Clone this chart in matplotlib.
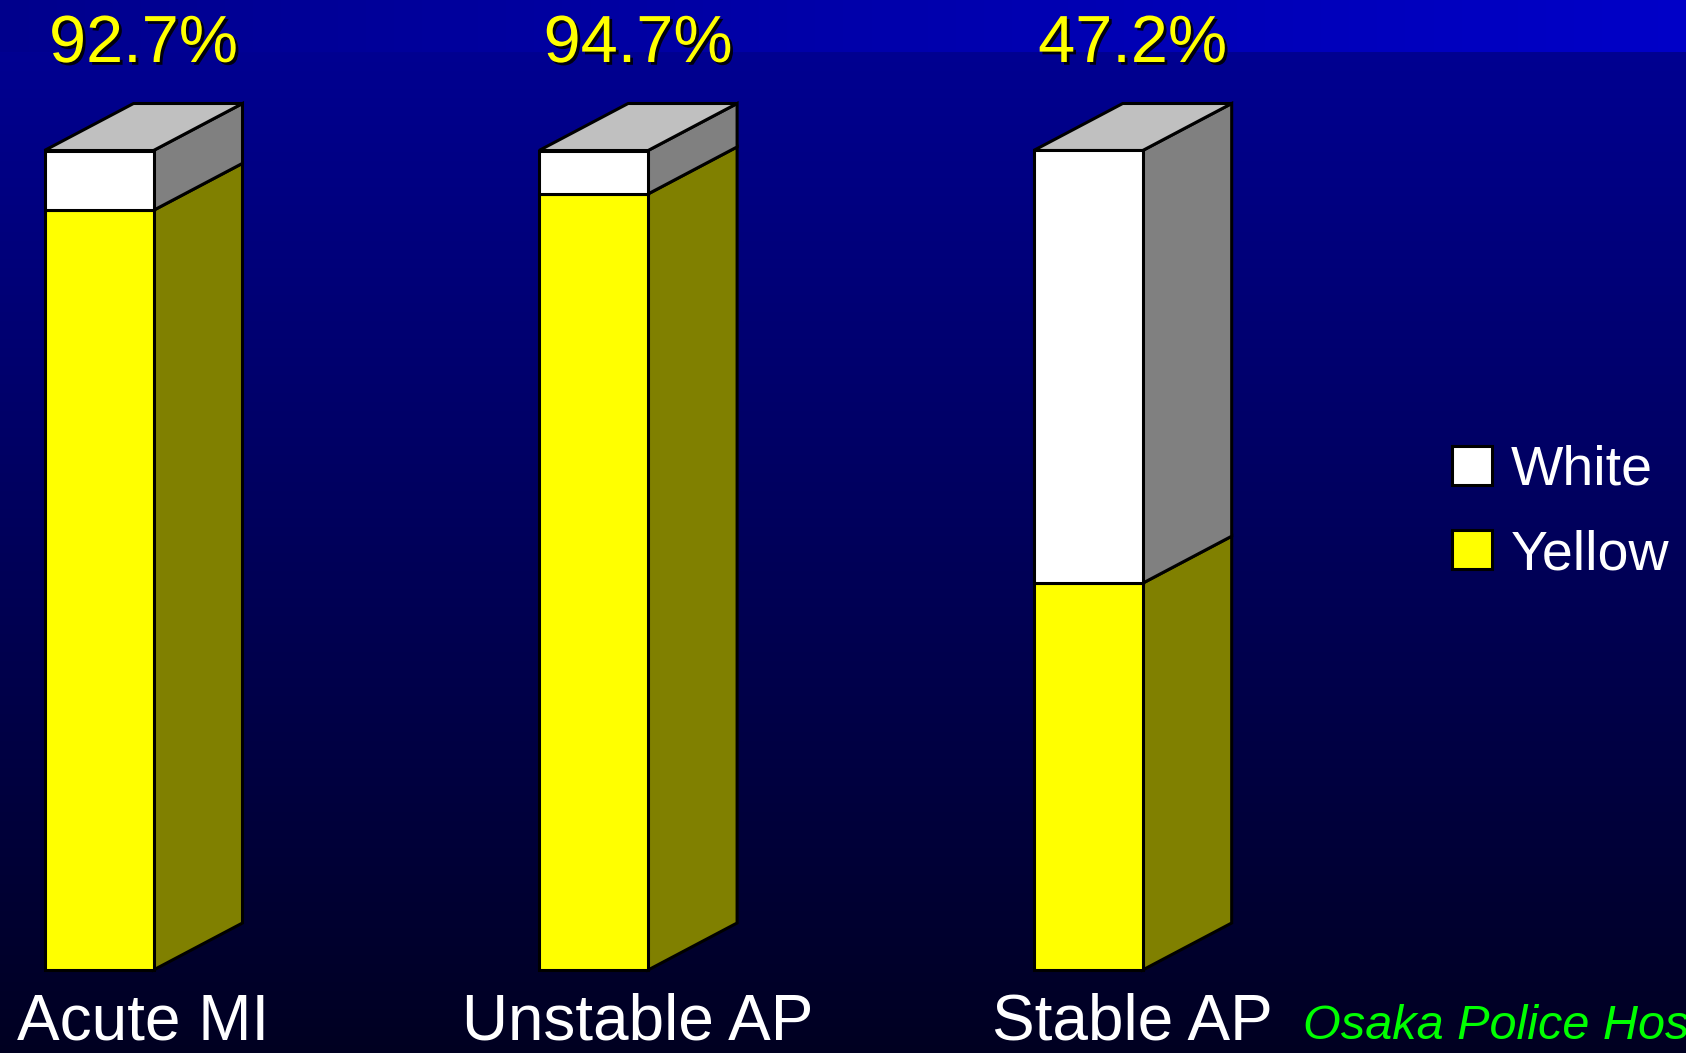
import numpy as np
import matplotlib.pyplot as plt
import matplotlib.patheffects as pe
from matplotlib.patches import Polygon, Patch
from matplotlib import font_manager

categories = ['Acute MI', 'Unstable AP', 'Stable AP']
yellow_pct = [92.7, 94.7, 47.2]
white_pct = [100 - v for v in yellow_pct]
series_names = ['White', 'Yellow']
credit = 'Osaka Police Hospital'

# narrow face for the big labels, if it is there
names = {f.name for f in font_manager.fontManager.ttflist}
narrow = 'Liberation Sans Narrow' if 'Liberation Sans Narrow' in names else 'Liberation Sans'
plt.rcParams['font.family'] = ['Liberation Sans', 'DejaVu Sans']

W, H = 1686, 1053
fig = plt.figure(figsize=(W / 100, H / 100), dpi=100)
ax = fig.add_axes([0, 0, 1, 1])

# axis limits chosen so bars sit where they should on the canvas
px_per_x = 494.6
px_per_y = 8.195
x0_px, y0_px = 99, 970
xlim = (-x0_px / px_per_x, (W - x0_px) / px_per_x)
ylim = (-(H - y0_px) / px_per_y, y0_px / px_per_y)
ax.set_xlim(*xlim)
ax.set_ylim(*ylim)
ax.axis('off')

# background: dark blue fading to black, brighter strip along the top
rows = np.arange(H)[:, None]
cols = np.arange(W)[None, :]
blue = 145 - 112 * np.clip((rows - 53) / 1000, 0, 1) + 0 * cols
band = rows < 52
blue = np.where(band, 140 + 60 * cols / W + 0 * rows, blue)
bg = np.zeros((H, W, 3))
bg[..., 2] = blue / 255
ax.imshow(bg, extent=(xlim[0], xlim[1], ylim[0], ylim[1]), aspect='auto', zorder=0)

w = 109 / px_per_x
dx = 89 / px_per_x
dy = 47 / px_per_y
lw = 2.2
x = np.arange(len(categories))

ax.bar(x, yellow_pct, width=w, color='#ffff00', edgecolor='black', linewidth=lw, zorder=3)
ax.bar(x, white_pct, bottom=yellow_pct, width=w, color='white', edgecolor='black', linewidth=lw, zorder=3)

for xi, yv in zip(x, yellow_pct):
    r = xi + w / 2
    l = xi - w / 2
    faces = [
        ([(r, 0), (r + dx, dy), (r + dx, yv + dy), (r, yv)], '#808000'),
        ([(r, yv), (r + dx, yv + dy), (r + dx, 100 + dy), (r, 100)], '#808080'),
        ([(l, 100), (r, 100), (r + dx, 100 + dy), (l + dx, 100 + dy)], '#c0c0c0'),
    ]
    for pts, c in faces:
        ax.add_patch(Polygon(pts, closed=True, facecolor=c, edgecolor='black',
                             linewidth=lw, joinstyle='miter', zorder=2))

shadow = [pe.SimplePatchShadow(offset=(2, -2), shadow_rgbFace='black', alpha=0.9), pe.Normal()]
for xi, yv, cat in zip(x, yellow_pct, categories):
    cx = xi + dx / 2
    ax.text(cx, (y0_px - 45) / px_per_y, f'{yv:.1f}%', color='#ffff00', fontsize=48,
            family=[narrow, 'DejaVu Sans'], ha='center', va='center',
            path_effects=shadow, zorder=5)
    ax.text(cx, -(1039 - y0_px) / px_per_y, cat, color='white', fontsize=46,
            family=[narrow, 'DejaVu Sans'], ha='center', va='baseline', zorder=5)

ax.text((1303 - x0_px) / px_per_x, -(1039 - y0_px) / px_per_y, credit, color='#00ff00',
        fontsize=35, style='italic', family=[narrow, 'DejaVu Sans'],
        ha='left', va='baseline', zorder=5)

handles = [Patch(facecolor='white', edgecolor='black', linewidth=lw),
           Patch(facecolor='#ffff00', edgecolor='black', linewidth=lw)]
leg = ax.legend(handles, series_names, loc='upper left', bbox_to_anchor=(1424 / W, 1 - 417 / H),
                frameon=False, fontsize=40, labelcolor='white', handlelength=0.72,
                handleheight=0.72, handletextpad=0.35, labelspacing=0.58, borderpad=0)
leg.set_zorder(6)

fig.savefig('out.png', dpi=100, facecolor='black')
